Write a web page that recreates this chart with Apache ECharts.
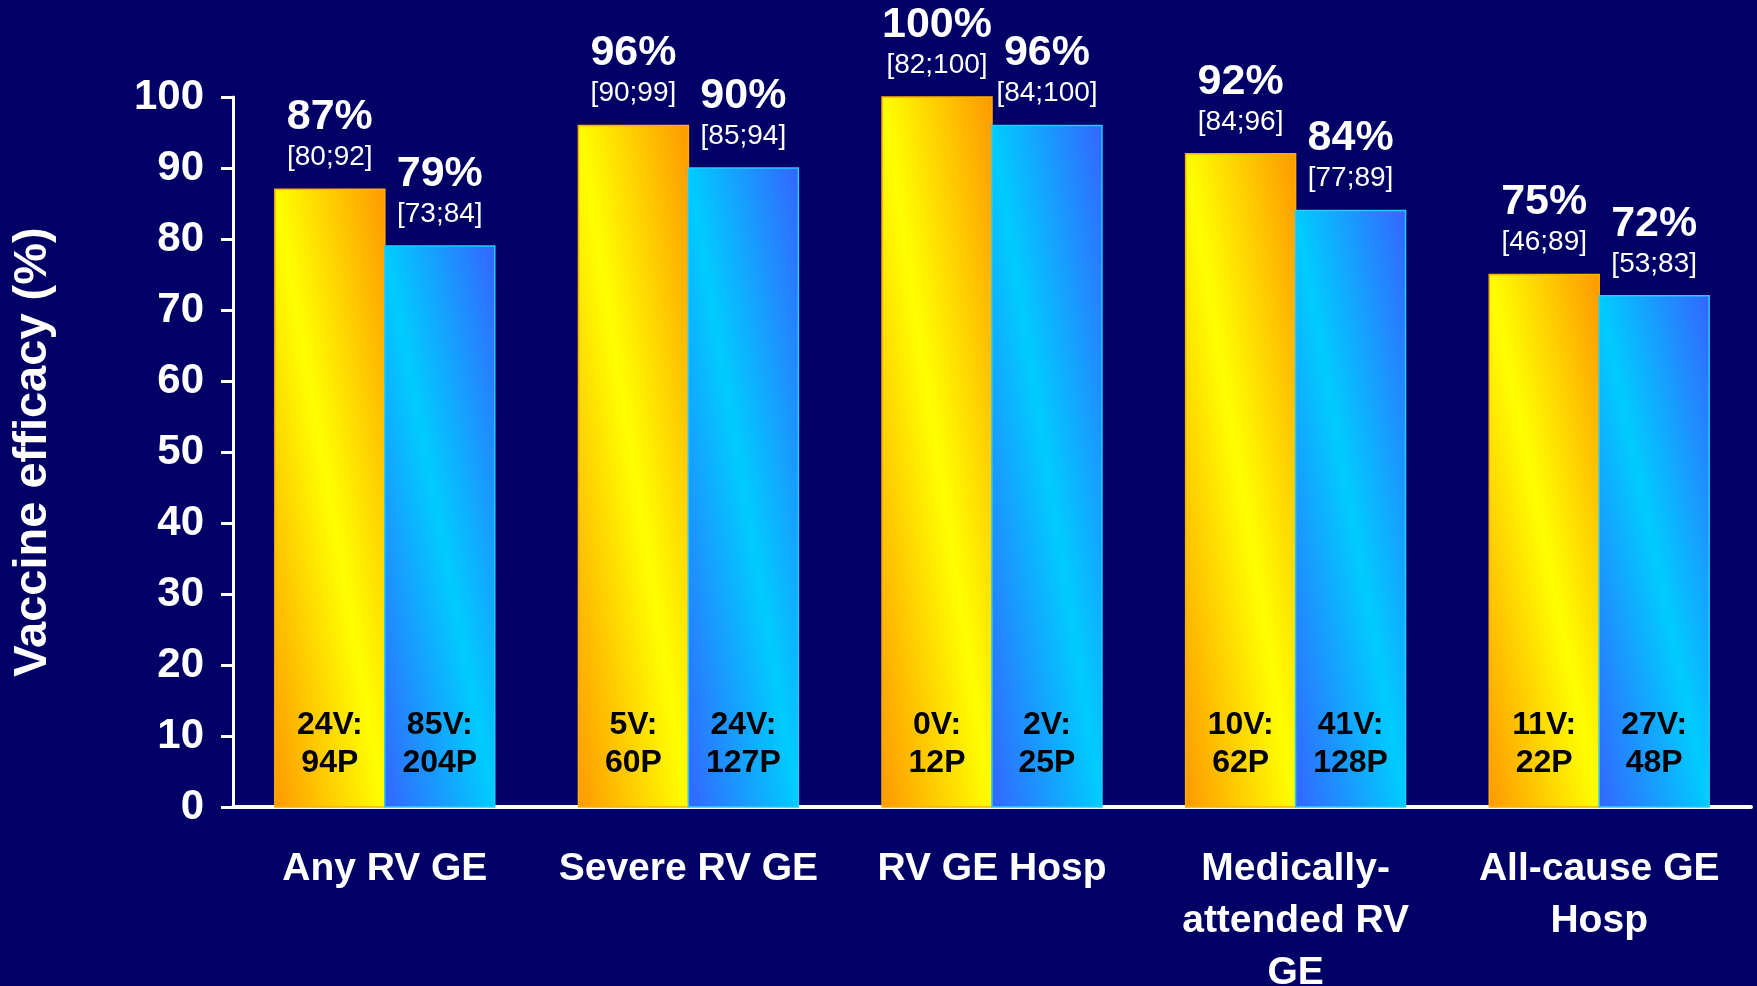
<!DOCTYPE html>
<html>
<head>
<meta charset="utf-8">
<script src="https://cdn.jsdelivr.net/npm/echarts@6/dist/echarts.min.js"></script>
<style>
  html, body { margin: 0; padding: 0; background: #000066; }
  #chart { width: 1757px; height: 986px; }
</style>
</head>
<body>
<div id="chart"></div>
<script>
// Endpoint categories (x axis)
const categories = [
  'Any RV GE',
  'Severe RV GE',
  'RV GE Hosp',
  'Medically-\nattended RV\nGE',
  'All-cause GE\nHosp'
];

// Vaccine efficacy (%), first bar of each pair (yellow/orange)
const efficacyA = [87, 96, 100, 92, 75];
// Vaccine efficacy (%), second bar of each pair (blue)
const efficacyB = [79, 90, 96, 84, 72];

// 95% confidence intervals shown under each percentage
const ciA = ['[80;92]', '[90;99]', '[82;100]', '[84;96]', '[46;89]'];
const ciB = ['[73;84]', '[85;94]', '[84;100]', '[77;89]', '[53;83]'];

// Case counts: vaccine vs placebo
const casesA = ['24V:\n94P', '5V:\n60P', '0V:\n12P', '10V:\n62P', '11V:\n22P'];
const casesB = ['85V:\n204P', '24V:\n127P', '2V:\n25P', '41V:\n128P', '27V:\n48P'];

// Y axis range
const yMin = 0, yMax = 100, yStep = 10;

const FONT = '"Liberation Sans", Arial, sans-serif';
const BAR_SHARE = 110 / 303.7; // bar width as share of a category band

const stopsA = [
  { offset: 0, color: '#FF9900' },
  { offset: 0.5, color: '#FFFF00' },
  { offset: 1, color: '#FF9900' }
];
const stopsB = [
  { offset: 0, color: '#3366FF' },
  { offset: 0.5, color: '#00CCFF' },
  { offset: 1, color: '#3366FF' }
];

// Draws one bar of a pair; the gradient runs corner to corner so that the
// light band follows the top-left -> bottom-right diagonal of each bar.
function makeRenderer(side, values, ci, cases, stops, stroke) {
  return function (params, api) {
    const i = params.dataIndex;
    const cat = api.value(0);
    const v = api.value(1);
    const base = api.coord([cat, 0]);
    const top = api.coord([cat, v]);
    const band = api.size([1, 0])[0];
    const w = band * BAR_SHARE;
    const x0 = side === 0 ? base[0] - w : base[0];
    const y0 = top[1];
    const h = base[1] - top[1];
    const L2 = w * w + h * h;
    const dx = w * h * h / L2;
    const dy = w * w * h / L2;
    const fill = new echarts.graphic.LinearGradient(
      x0 - dx, y0 + dy, x0 + dx, y0 - dy, stops, true
    );
    const cx = x0 + w / 2;
    return {
      type: 'group',
      children: [
        {
          type: 'rect',
          shape: { x: x0, y: y0, width: w, height: h },
          style: { fill: fill, stroke: stroke, lineWidth: 1.5 }
        },
        {
          type: 'text',
          x: cx, y: y0 - 72,
          style: {
            text: values[i] + '%', fill: '#ffffff',
            font: 'bold 43px ' + FONT, align: 'center', verticalAlign: 'middle'
          }
        },
        {
          type: 'text',
          x: cx, y: y0 - 32,
          style: {
            text: ci[i], fill: '#ffffff',
            font: '28px ' + FONT, align: 'center', verticalAlign: 'middle'
          }
        },
        {
          type: 'text',
          x: cx, y: base[1] - 63,
          style: {
            text: cases[i], fill: '#000000',
            font: 'bold 32px ' + FONT, lineHeight: 38,
            align: 'center', verticalAlign: 'middle'
          }
        }
      ]
    };
  };
}

const chart = echarts.init(document.getElementById('chart'), null, { renderer: 'canvas' });

chart.setOption({
  backgroundColor: '#000066',
  animation: false,
  grid: {
    left: 233, right: 6, top: 97, bottom: 179,
    containLabel: false, outerBoundsMode: 'none'
  },
  xAxis: {
    type: 'category',
    data: categories,
    axisLine: { lineStyle: { color: '#ffffff', width: 4 } },
    axisTick: { show: false },
    axisLabel: {
      color: '#ffffff', fontFamily: FONT, fontWeight: 'bold',
      fontSize: 39, lineHeight: 52, margin: 36, interval: 0
    },
    splitLine: { show: false }
  },
  yAxis: {
    type: 'value',
    min: yMin, max: yMax, interval: yStep,
    name: 'Vaccine efficacy (%)',
    nameLocation: 'middle',
    nameRotate: 90,
    nameGap: 176,
    nameTextStyle: { color: '#ffffff', fontFamily: FONT, fontWeight: 'bold', fontSize: 47 },
    axisLine: { show: true, lineStyle: { color: '#ffffff', width: 3 } },
    axisTick: { show: true, inside: false, length: 12, lineStyle: { color: '#ffffff', width: 3 } },
    axisLabel: {
      color: '#ffffff', fontFamily: FONT, fontWeight: 'bold', fontSize: 42, margin: 29
    },
    splitLine: { show: false }
  },
  series: [
    {
      name: 'efficacyA',
      type: 'custom',
      renderItem: makeRenderer(0, efficacyA, ciA, casesA, stopsA, '#FFB000'),
      encode: { x: 0, y: 1 },
      data: efficacyA.map((v, i) => [i, v]),
      clip: false,
      z: 3
    },
    {
      name: 'efficacyB',
      type: 'custom',
      renderItem: makeRenderer(1, efficacyB, ciB, casesB, stopsB, '#22CCFF'),
      encode: { x: 0, y: 1 },
      data: efficacyB.map((v, i) => [i, v]),
      clip: false,
      z: 3
    }
  ]
});
</script>
</body>
</html>
